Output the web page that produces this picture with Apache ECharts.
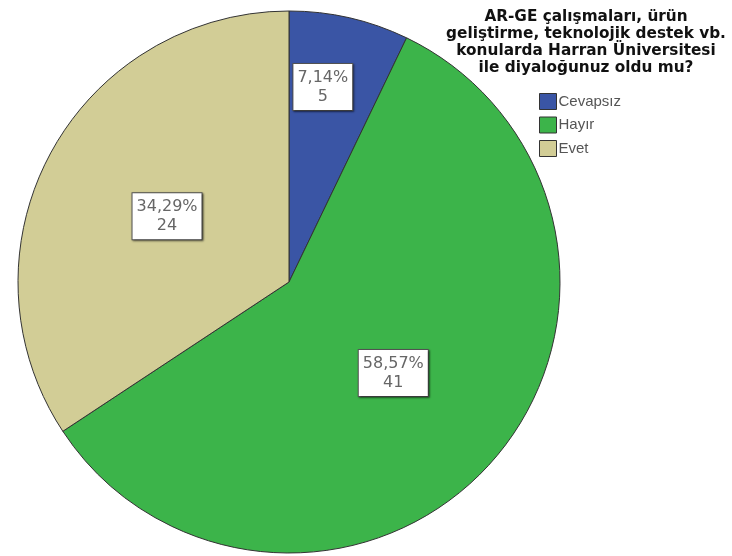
<!DOCTYPE html>
<html>
<head>
<meta charset="utf-8">
<script src="https://cdn.jsdelivr.net/npm/echarts@6/dist/echarts.min.js"></script>
<style>
  html, body { margin: 0; padding: 0; background: #fff; }
  #chart { width: 732px; height: 556px; }
</style>
</head>
<body>
<div id="chart"></div>
<script>
const categories = ['Cevapsız', 'Hayır', 'Evet'];
const counts = [5, 41, 24];
const colors = ['#3A55A5', '#3CB44A', '#D2CD96'];
const titleLines = [
  'AR-GE çalışmaları, ürün',
  'geliştirme, teknolojik destek vb.',
  'konularda Harran Üniversitesi',
  'ile diyaloğunuz oldu mu?'
];

const chart = echarts.init(document.getElementById('chart'), null, { renderer: 'canvas' });

const option = {
  animation: false,
  backgroundColor: '#ffffff',
  title: {
    text: titleLines.join('\n'),
    left: 586,
    top: 9,
    textAlign: 'center',
    padding: 0,
    textStyle: {
      fontFamily: 'DejaVu Sans, sans-serif',
      fontWeight: 'bold',
      fontSize: 15.3,
      lineHeight: 17,
      color: '#111'
    }
  },
  legend: {
    orient: 'vertical',
    left: 539,
    top: 93,
    padding: 0,
    itemWidth: 17,
    itemHeight: 16,
    itemGap: 6.5,
    icon: 'rect',
    selectedMode: false,
    data: categories,
    itemStyle: { borderColor: '#333', borderWidth: 1 },
    textStyle: {
      fontFamily: 'Liberation Sans, Arial, sans-serif',
      fontSize: 15,
      color: '#555',
      padding: [0, 0, 0, -3]
    }
  },
  series: [{
    type: 'pie',
    center: [289, 282],
    radius: 271,
    startAngle: 90,
    clockwise: true,
    avoidLabelOverlap: false,
    itemStyle: {
      borderColor: '#333',
      borderWidth: 1
    },
    label: {
      show: true,
      position: 'inside',
      formatter: function (p) {
        return p.percent.toFixed(2).replace('.', ',') + '%\n' + p.value;
      },
      fontFamily: 'DejaVu Sans, sans-serif',
      fontSize: 16,
      lineHeight: 19,
      color: '#666',
      align: 'center',
      backgroundColor: '#ffffff',
      borderColor: '#555',
      borderWidth: 1,
      padding: [4, 4, 4, 4],
      shadowColor: 'rgba(0,0,0,0.45)',
      shadowBlur: 2,
      shadowOffsetX: 1,
      shadowOffsetY: 1
    },
    labelLine: { show: false },
    labelLayout: function (params) {
      if (params.dataIndex === 0) {
        return { dx: 3, dy: -60 };
      }
      return {};
    },
    data: categories.map(function (c, i) {
      return { name: c, value: counts[i], itemStyle: { color: colors[i] } };
    })
  }]
};

chart.setOption(option);
</script>
</body>
</html>
